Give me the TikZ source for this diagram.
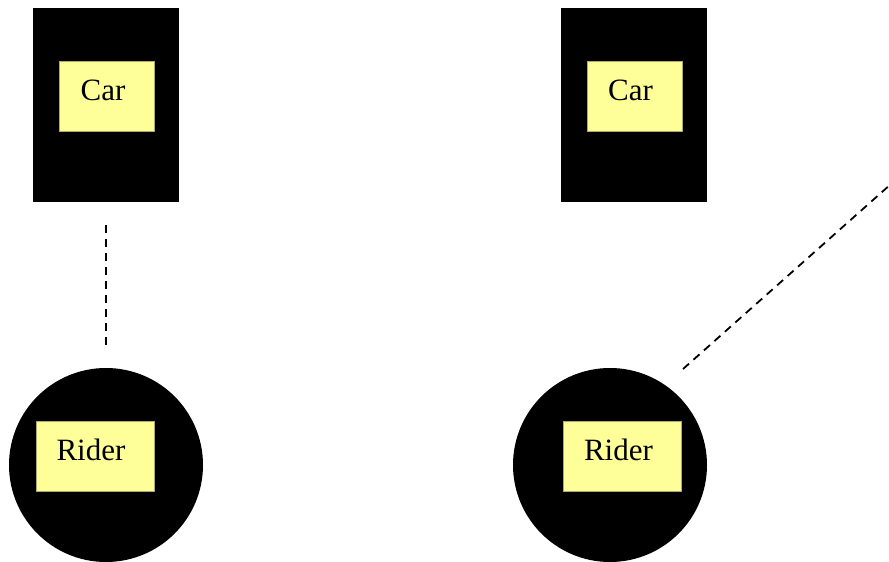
\documentclass[tikz,border=0pt]{standalone}
\usepackage{fontspec}
\setmainfont{Liberation Serif}
\definecolor{tagyellow}{RGB}{255,255,153}
\definecolor{tagedge}{RGB}{170,170,110}
\begin{document}
\begin{tikzpicture}[x=1pt,y=-1pt,
  carbox/.style={fill=black, draw=none, inner sep=0pt,
    minimum width=146pt, minimum height=194pt},
  riderdisc/.style={circle, fill=black, draw=none, inner sep=0pt,
    minimum size=194pt},
  tag/.style={fill=tagyellow, draw=tagedge, line width=0.4pt, inner sep=0pt,
    minimum height=70pt},
  word/.style={font=\fontsize{31}{36}\selectfont, inner sep=0pt, anchor=base},
  link/.style={dash pattern=on 8pt off 6pt, line width=1.8pt}]
\useasboundingbox (0,0) rectangle (889,562);
\clip (0,0) rectangle (889,562);

% cars
\node[carbox] (c1) at (106,105) {};
\node[carbox] (c2) at (634,105) {};
\node[tag, minimum width=95pt] (c1tag) at (107,96) {};
\node[tag, minimum width=95pt] (c2tag) at (634.5,96) {};
\node[word] (c1txt) at (103,100) {Car};
\node[word] (c2txt) at (630.5,100) {Car};

% riders
\node[riderdisc] (r1) at (106,465) {};
\node[riderdisc] (r2) at (610,465) {};
\node[tag, minimum width=118pt] (r1tag) at (95,456) {};
\node[tag, minimum width=118pt] (r2tag) at (622.5,456) {};
\node[word] (r1txt) at (91,460) {Rider};
\node[word] (r2txt) at (618.5,460) {Rider};

% links
\draw[link, shorten <=23pt, shorten >=23pt] (c1.south) -- (r1.north);
\coordinate (r2out) at (683,369);
\coordinate (offpage) at (900,176);
\draw[link] (r2out) -- (offpage);
\end{tikzpicture}
\end{document}
